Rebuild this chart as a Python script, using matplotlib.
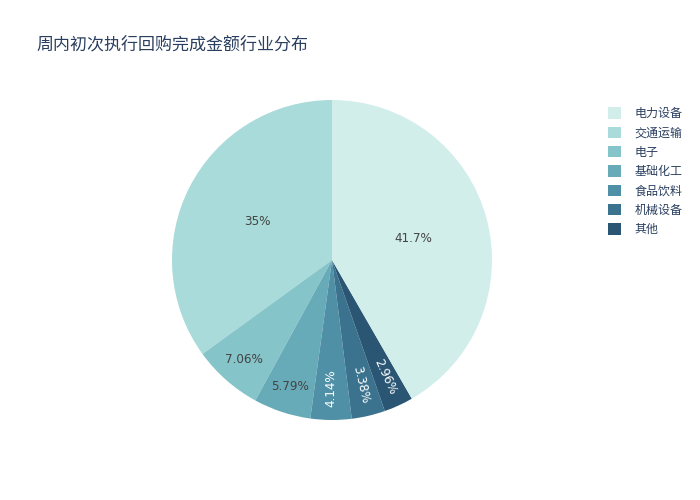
import matplotlib
matplotlib.use("Agg")
import matplotlib.pyplot as plt
from matplotlib.patches import Patch
import numpy as np

plt.rcParams['font.family'] = ['DejaVu Sans', 'Noto Sans CJK SC']

title = "周内初次执行回购完成金额行业分布"
categories = ["电力设备", "交通运输", "电子", "基础化工", "食品饮料", "机械设备", "其他"]
values = [41.7, 35.0, 7.06, 5.79, 4.14, 3.38, 2.96]
colors = ["#d1eeea", "#a8dbd9", "#85c4c9", "#68abb8", "#4f90a6", "#3b738f", "#2a5674"]

W, H = 700, 500
fig = plt.figure(figsize=(W / 100, H / 100), dpi=100)

cx, cy, r = 332, 260, 160
ax = fig.add_axes([(cx - r) / W, (H - cy - r) / H, 2 * r / W, 2 * r / H])

# drawing order: counter-clockwise from 12 o'clock, first category last
order = list(range(1, len(values))) + [0]
vals = [values[i] for i in order]
cols = [colors[i] for i in order]

wedges, _ = ax.pie(vals, colors=cols, startangle=90, counterclock=True,
                   radius=1, wedgeprops=dict(linewidth=0))
ax.set_xlim(-1, 1)
ax.set_ylim(-1, 1)
ax.set_aspect('equal')
ax.axis('off')

total = sum(vals)
fs = 12 * 0.72
for w, v, c in zip(wedges, vals, cols):
    mid = 0.5 * (w.theta1 + w.theta2)
    frac = v / total
    rgb = matplotlib.colors.to_rgb(c)
    lum = 0.299 * rgb[0] + 0.587 * rgb[1] + 0.114 * rgb[2]
    tcol = "white" if lum < 0.55 else "#444444"
    if frac < 0.05:
        d = 0.80
        rot = mid % 180
        if rot > 90:
            rot -= 180
    elif frac < 0.10:
        d = 0.83
        rot = 0
    else:
        d = 0.525
        rot = 0
    x = d * np.cos(np.radians(mid))
    y = d * np.sin(np.radians(mid))
    label = f"{v:.3g}%"
    ax.text(x, y, label, ha='center', va='center', rotation=rot,
            rotation_mode='anchor', color=tcol, fontsize=fs)

fig.text(36 / W, 1 - 44 / H, title, fontsize=17 * 0.72, color="#2a3f5f",
         ha='left', va='center')

handles = [Patch(facecolor=c, edgecolor='none') for c in colors]
leg = fig.legend(handles, categories, loc='upper left',
                 bbox_to_anchor=(608 / W, 1 - 107 / H), frameon=False,
                 fontsize=fs, labelcolor="#2a3f5f", handlelength=1.1,
                 handleheight=1.1, handletextpad=1.1, labelspacing=0.53,
                 borderpad=0, borderaxespad=0)

fig.savefig("out.png", dpi=100, facecolor="white")
